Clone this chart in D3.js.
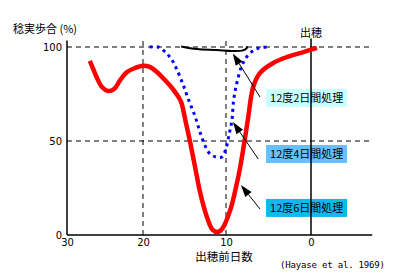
<!DOCTYPE html>
<html>
<head>
<meta charset="utf-8">
<style> body { margin: 0; background: #fff; } text { font-family: "Noto Sans CJK JP", "DejaVu Sans", sans-serif; } </style>
<script src="https://d3js.org/d3.v7.min.js"></script>
</head>
<body>
<svg id="chart" width="402" height="276"></svg>
<script>
// days before heading / fertility (%)
var redDays = [27.0, 26.6, 26.05, 25.4, 24.6, 23.8, 23.0, 22.1, 21.05, 20, 19.2, 18.2, 17.35, 16.5, 15.8, 15.4, 14.9, 14.3, 13.7, 13.1, 12.3, 11.6, 11.0, 10.4, 9.5, 8.9, 8.35, 7.8, 7.4, 6.8, 6.0, 4.45, 2.8, 0.9, -0.7]
var redPct  = [92.6, 88.8, 83.5, 78.7, 76.6, 77.7, 82.4, 86.7, 88.8, 90, 89.4, 86.2, 82.4, 78.2, 73.9, 70.7, 61.2, 48.9, 35.6, 22.3, 9.6, 2.7, 1.6, 3.7, 13.3, 23.9, 35.6, 50.5, 62.2, 78.7, 86.2, 91.5, 94.7, 97.3, 99.5]

var blueDays = [19.2, 18.2, 17.3, 16.5, 16.0, 15.2, 14.5, 13.7, 13.1, 12.5, 11.9, 11.2, 10.5, 10.0, 9.6, 9.3, 9.1, 8.7, 8.1, 7.4, 6.4, 5.2]
var bluePct  = [100, 100, 97.3, 93, 88.8, 80.3, 71.8, 62.8, 54.3, 47.3, 43, 41.5, 41.5, 46, 54.3, 61, 71.8, 81.4, 90.4, 95.7, 99, 100]

var blackDays = [15.4, 13.5, 11.1, 9.3, 8.0, 7.6, 7.5]
var blackPct  = [100.3, 98.9, 98.4, 97.9, 98.2, 99.2, 100.4]

var xTicks = [30, 20, 10, 0]
var yTicks = [0, 50, 100]
var labels = ['12度2日間処理', '12度4日間処理', '12度6日間処理']
var labelColors = ['#c8ffff', '#66c0ff', '#10b8f0']
var labelPct = [72.9, 43.1, 14.4]
// arrows: tip / tail
var arrowTip = [[9.2, 96.6], [9.18, 60.1], [8.24, 26.6]]
var arrowTail = [[6.0, 73.4], [6.2, 40.4], [6.0, 13.8]]

const svg = d3.select('#chart')

let x = d3.scaleLinear().domain([30, 20, 10, 0]).range([67, 143, 226, 311])
let y = d3.scaleLinear().domain([0, 100]).range([235, 47])
let xEnd = -7.2

// grid dashes
svg.append('g')
    .selectAll('line.h')
    .data([50, 100])
    .join('line')
        .attr('x1', x(30)).attr('x2', x(xEnd))
        .attr('y1', d => y(d)).attr('y2', d => y(d))
        .attr('stroke', '#000').attr('stroke-dasharray', '5,4')

svg.append('g')
    .selectAll('line.v')
    .data([20, 10])
    .join('line')
        .attr('x1', d => x(d)).attr('x2', d => x(d))
        .attr('y1', y(0)).attr('y2', y(103.5))
        .attr('stroke', '#000').attr('stroke-dasharray', '5,4')

// legend boxes
labels.forEach((t, i) => {
    let g = svg.append('g')
    g.append('rect')
        .attr('x', x(5.29)).attr('y', y(labelPct[i]) - 9)
        .attr('width', 81).attr('height', 18)
        .attr('fill', labelColors[i])
    g.append('text')
        .attr('x', x(5.29) + 4).attr('y', y(labelPct[i]) + 4)
        .attr('font-size', '11px')
        .text(t)
})

// axes lines
svg.append('line')
    .attr('x1', x(30)).attr('x2', x(xEnd))
    .attr('y1', y(0)).attr('y2', y(0))
    .attr('stroke', '#000').attr('stroke-width', 1.5)
svg.append('line')
    .attr('x1', x(30)).attr('x2', x(30))
    .attr('y1', y(0)).attr('y2', y(103.5))
    .attr('stroke', '#000').attr('stroke-width', 1.5)
svg.append('line')
    .attr('x1', x(0)).attr('x2', x(0))
    .attr('y1', y(0)).attr('y2', y(104.5))
    .attr('stroke', '#000').attr('stroke-width', 1.5)

var yAxis = svg.append('g')
    .attr('transform', `translate(${x(30)},0)`)
    .call(d3.axisLeft(y).tickValues(yTicks).tickSize(0).tickPadding(5))
yAxis.select('.domain').remove()
yAxis.selectAll('text').attr('font-size', '10px').style('font-family', 'DejaVu Sans')

var xAxis = svg.append('g')
    .attr('transform', `translate(0,${y(0)})`)
    .call(d3.axisBottom(x).tickValues(xTicks).tickSize(0).tickPadding(4))
xAxis.select('.domain').remove()
xAxis.selectAll('text').attr('font-size', '10px').style('font-family', 'DejaVu Sans')

// curves
let line = d3.line()
    .x(d => x(d[0]))
    .y(d => y(d[1]))
    .curve(d3.curveCatmullRom.alpha(0.5))

svg.append('path')
    .datum(d3.zip(blueDays, bluePct))
    .attr('d', line)
    .attr('fill', 'none').attr('stroke', '#0000ff')
    .attr('stroke-width', 3).attr('stroke-dasharray', '3,4')

svg.append('path')
    .datum(d3.zip(blackDays, blackPct))
    .attr('d', line)
    .attr('fill', 'none').attr('stroke', '#000')
    .attr('stroke-width', 2)

svg.append('path')
    .datum(d3.zip(redDays, redPct))
    .attr('d', line)
    .attr('fill', 'none').attr('stroke', '#ff0000')
    .attr('stroke-width', 4.5)

// arrows
arrowTip.forEach((tip, i) => {
    let tx = x(tip[0]), ty = y(tip[1])
    let sx = x(arrowTail[i][0]), sy = y(arrowTail[i][1])
    let a = Math.atan2(ty - sy, tx - sx)
    let len = 12, w = 4
    let bx = tx - len * Math.cos(a), by = ty - len * Math.sin(a)
    svg.append('line')
        .attr('x1', sx).attr('y1', sy).attr('x2', bx).attr('y2', by)
        .attr('stroke', '#000').attr('stroke-width', 1)
    svg.append('path')
        .attr('d', `M${tx},${ty}L${bx - w * Math.sin(a)},${by + w * Math.cos(a)}L${bx + w * Math.sin(a)},${by - w * Math.cos(a)}Z`)
        .attr('fill', '#000')
})

// texts
svg.append('text')
    .attr('x', 13).attr('y', 33)
    .attr('font-size', '11px')
    .text('稔実歩合 (%)')

svg.append('text')
    .attr('x', x(0)).attr('y', 37)
    .attr('text-anchor', 'middle')
    .attr('font-size', '11px')
    .text('出穂')

svg.append('text')
    .attr('x', 224).attr('y', 261)
    .attr('text-anchor', 'middle')
    .attr('font-size', '11.5px')
    .text('出穂前日数')

svg.append('text')
    .attr('x', 280).attr('y', 268)
    .attr('font-size', '9px')
    .attr('textLength', 105)
    .style('font-family', 'DejaVu Sans Mono')
    .text('(Hayase et al. 1969)')
</script>
</body>
</html>
